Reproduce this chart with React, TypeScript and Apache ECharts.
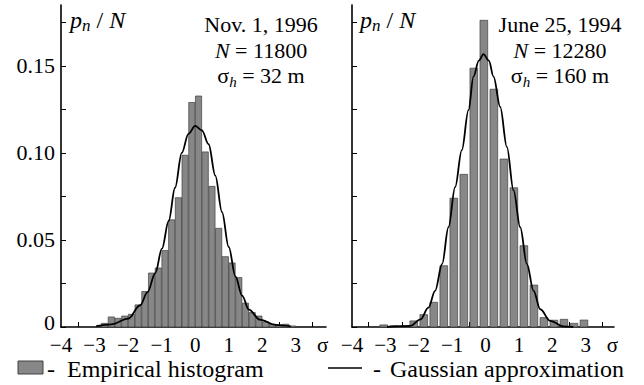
import React, { useEffect, useRef } from "react";
import * as echarts from "echarts";

// ---- data ----
const leftBinCenters = [-2.7, -2.5, -2.3, -2.1, -1.9, -1.7, -1.5, -1.3, -1.1, -0.9, -0.7, -0.5, -0.3, -0.1, 0.1, 0.3, 0.5, 0.7, 0.9, 1.1, 1.3, 1.5, 1.7, 1.9, 2.1, 2.3, 2.5, 2.7, 2.9];
const leftBinValues = [0.0021, 0.0058, 0.005, 0.0063, 0.0073, 0.0127, 0.0204, 0.031, 0.0339, 0.0439, 0.0616, 0.0743, 0.0987, 0.129, 0.1327, 0.1006, 0.0808, 0.0567, 0.0404, 0.0368, 0.0284, 0.0137, 0.0083, 0.0063, 0.003, 0.0016, 0.0012, 0.0016, 0.0006];

const rightBinCenters = [-3.05, -2.75, -2.45, -2.15, -1.85, -1.55, -1.25, -0.95, -0.65, -0.35, -0.05, 0.25, 0.55, 0.85, 1.15, 1.45, 1.75, 2.05, 2.35, 2.65, 2.95];
const rightBinValues = [0.0012, 0.0007, 0, 0.0035, 0.0071, 0.0142, 0.0352, 0.074, 0.0877, 0.1487, 0.1762, 0.1366, 0.0965, 0.08, 0.0467, 0.0241, 0.0054, 0.0039, 0.0044, 0.0021, 0.004];

const leftCurveX = [-2.95, -2.5, -2.0, -1.64, -1.42, -1.19, -0.99, -0.79, -0.6, -0.4, -0.2, 0.0, 0.2, 0.4, 0.6, 0.8, 1.0, 1.2, 1.4, 1.6, 1.93, 2.4, 2.85];
const leftCurveY = [0.0005, 0.0015, 0.0048, 0.0125, 0.02, 0.031, 0.045, 0.061, 0.08, 0.1, 0.111, 0.1155, 0.113, 0.105, 0.087, 0.066, 0.046, 0.029, 0.018, 0.01, 0.0042, 0.0012, 0.0003];

const rightCurveX = [-2.95, -2.25, -1.95, -1.71, -1.51, -1.3, -1.11, -0.91, -0.71, -0.51, -0.36, -0.2, -0.06, 0.1, 0.24, 0.44, 0.64, 0.84, 1.04, 1.24, 1.44, 1.64, 1.94, 2.33, 2.63];
const rightCurveY = [0.0001, 0.0006, 0.0044, 0.0111, 0.0208, 0.0362, 0.0573, 0.0804, 0.1016, 0.1246, 0.1439, 0.153, 0.1568, 0.153, 0.1439, 0.1265, 0.1035, 0.0785, 0.0573, 0.0362, 0.0208, 0.0102, 0.0035, 0.0004, 0.0001];

const xLabelValues = [-4, -3, -2, -1, 0, 1, 2, 3, 3.8];
const xTickValues = [-3.5, -2.5, -1.5, -0.5, 0.5, 1.5, 2.5, 3.5];
const yTickValues = [0, 0.025, 0.05, 0.075, 0.1, 0.125, 0.15, 0.175];
// the "0" label sits slightly above the baseline in the reference
const yLabelValues = [0.0025, 0.05, 0.1, 0.15];

const leftNotes = ["Nov. 1, 1996", "11800", "32 m"];
const rightNotes = ["June 25, 1994", "12280", "160 m"];
const legendLabels = ["Empirical histogram", "Gaussian approximation"];

const FONT = "'Liberation Serif', 'Times New Roman', serif";
const BAR_FILL = "#878787";
const BAR_STROKE = "#404040";

function histSeries(centers: number[], values: number[], binW: number, idx: number) {
  return {
    type: "custom",
    xAxisIndex: idx,
    yAxisIndex: idx,
    z: 2,
    clip: false,
    data: centers.map((c, i) => [c, values[i]]),
    encode: { x: 0, y: 1 },
    renderItem: (_p: any, api: any) => {
      const c = api.value(0);
      const v = api.value(1);
      if (!v) return null;
      const a = api.coord([c - binW / 2, v]);
      const b = api.coord([c + binW / 2, 0]);
      return {
        type: "rect",
        shape: { x: a[0], y: a[1], width: b[0] - a[0], height: b[1] - a[1] },
        style: { fill: BAR_FILL, stroke: BAR_STROKE, lineWidth: 0.7 },
      };
    },
  };
}

function curveSeries(xs: number[], ys: number[], idx: number) {
  return {
    type: "line",
    xAxisIndex: idx,
    yAxisIndex: idx,
    z: 5,
    data: xs.map((x, i) => [x, ys[i]]),
    showSymbol: false,
    smooth: 0.35,
    smoothMonotone: "x",
    lineStyle: { color: "#000", width: 1.8 },
    silent: true,
  };
}

function xAxis(idx: number, max: number) {
  return {
    type: "value",
    gridIndex: idx,
    min: -4,
    max,
    interval: 0.5,
    axisLine: { show: true, onZero: false, lineStyle: { color: "#000", width: 1.6 } },
    axisTick: { show: true, inside: true, length: 5, customValues: xTickValues, lineStyle: { color: "#000", width: 1 } },
    axisLabel: {
      show: true,
      customValues: xLabelValues,
      margin: 9,
      color: "#000",
      fontFamily: FONT,
      fontSize: 21,
      lineHeight: 18,
      formatter: (v: number) => (v > 3.5 ? "σ" : v < 0 ? "\u2212" + Math.abs(v) : String(v)),
    },
    splitLine: { show: false },
  };
}

function yAxis(idx: number, showLabels: boolean) {
  return {
    type: "value",
    gridIndex: idx,
    min: 0,
    max: 0.185,
    interval: 0.025,
    axisLine: { show: true, onZero: false, lineStyle: { color: "#000", width: 1.6 } },
    axisTick: { show: true, inside: true, length: 5, customValues: yTickValues, lineStyle: { color: "#000", width: 1 } },
    axisLabel: {
      show: showLabels,
      customValues: yLabelValues,
      margin: 6,
      color: "#000",
      fontFamily: FONT,
      fontSize: 22,
      lineHeight: 16,
      formatter: (v: number) => (v < 0.01 ? "0" : v.toFixed(2)),
    },
    splitLine: { show: false },
  };
}

const italic = { fontFamily: FONT, fontSize: 22, fontStyle: "italic", fill: "#000", lineHeight: 28 } as any;
const italicBig = { fontFamily: FONT, fontSize: 24, fontStyle: "italic", fill: "#000", lineHeight: 28 } as any;
const plain = { fontFamily: FONT, fontSize: 22, fill: "#000", lineHeight: 28 } as any;
const plainBig = { fontFamily: FONT, fontSize: 24, fill: "#000", lineHeight: 28 } as any;
const sub = { fontFamily: FONT, fontSize: 15, fontStyle: "italic", fill: "#000", lineHeight: 13, verticalAlign: "bottom" } as any;
const subBig = { fontFamily: FONT, fontSize: 17, fontStyle: "italic", fill: "#000", lineHeight: 14, verticalAlign: "bottom" } as any;
const legendStyle = { fontFamily: FONT, fontSize: 24, fill: "#000", lineHeight: 20 } as any;

function pnLabel(x: number) {
  return {
    type: "text",
    x,
    y: 6,
    style: {
      text: "{i|p}{s|n}{g| / }{i|N}",
      rich: { i: italicBig, s: subBig, g: plainBig },
      fill: "#000",
    },
  };
}

function notes(cx: number, lines: string[]) {
  return [
    { type: "text", x: cx, y: 24, style: { text: lines[0], ...plain, textAlign: "center", textVerticalAlign: "middle" } },
    {
      type: "text",
      x: cx,
      y: 50,
      style: { text: "{i|N}{p| = " + lines[1] + "}", rich: { i: italic, p: plain }, textAlign: "center", textVerticalAlign: "middle" },
    },
    {
      type: "text",
      x: cx,
      y: 75,
      style: {
        text: "{g|σ}{s|h}{p| = " + lines[2] + "}",
        rich: { g: plain, s: sub, p: plain },
        textAlign: "center",
        textVerticalAlign: "middle",
      },
    },
  ];
}

export default function App() {
  const ref = useRef<HTMLDivElement>(null);
  useEffect(() => {
    if (!ref.current) return;
    const chart = echarts.init(ref.current, null, { renderer: "svg" });
    chart.setOption({
      animation: false,
      backgroundColor: "#fff",
      grid: [
        { left: 61, top: 5, width: 265, height: 322 },
        { left: 352, top: 5, width: 262, height: 322 },
      ],
      xAxis: [xAxis(0, 3.9), xAxis(1, 3.85)],
      yAxis: [yAxis(0, true), yAxis(1, false)],
      series: [
        histSeries(leftBinCenters, leftBinValues, 0.185, 0),
        curveSeries(leftCurveX, leftCurveY, 0),
        histSeries(rightBinCenters, rightBinValues, 0.23, 1),
        curveSeries(rightCurveX, rightCurveY, 1),
      ],
      graphic: [
        pnLabel(70),
        pnLabel(360),
        ...notes(261, leftNotes),
        ...notes(560, rightNotes),
        { type: "rect", shape: { x: 18, y: 361, width: 25, height: 13 }, style: { fill: BAR_FILL, stroke: BAR_STROKE, lineWidth: 1 } },
        { type: "text", x: 47, y: 369, style: { text: "-", ...legendStyle, textVerticalAlign: "middle" } },
        { type: "text", x: 67, y: 369, style: { text: legendLabels[0], ...legendStyle, textVerticalAlign: "middle" } },
        { type: "line", shape: { x1: 328, y1: 368, x2: 362, y2: 368 }, style: { stroke: "#000", lineWidth: 1.5 } },
        { type: "text", x: 373, y: 369, style: { text: "-", ...legendStyle, textVerticalAlign: "middle" } },
        { type: "text", x: 390, y: 369, style: { text: legendLabels[1], ...legendStyle, textVerticalAlign: "middle" } },
      ],
    });
    return () => chart.dispose();
  }, []);
  return <div ref={ref} style={{ position: "fixed", left: 0, top: 0, width: 644, height: 385 }} />;
}
